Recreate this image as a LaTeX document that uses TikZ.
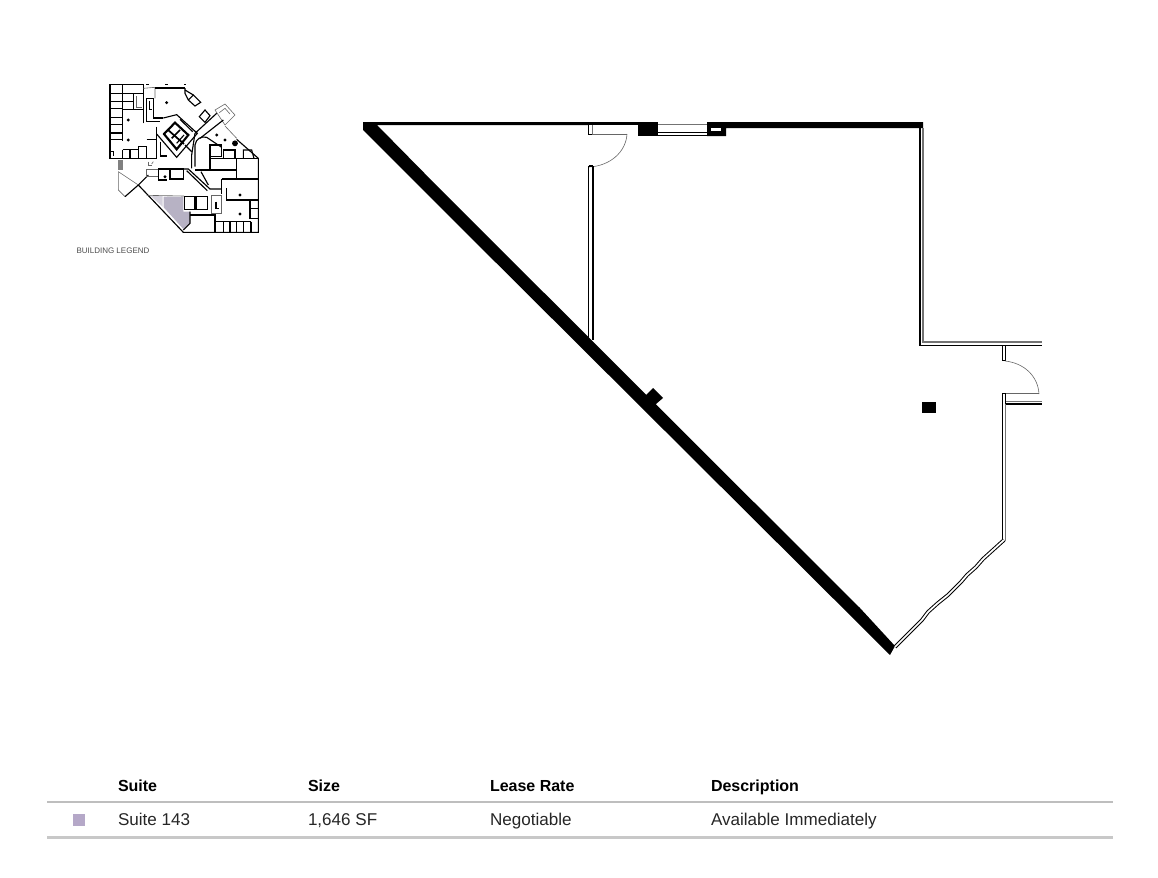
\documentclass[tikz,border=0pt]{standalone}
\usepackage{fontspec}
\setmainfont{Liberation Sans}
\definecolor{suitecolor}{RGB}{181,168,200}
\definecolor{plancolor}{RGB}{183,178,196}
\definecolor{rulecolor}{RGB}{190,190,190}
\tikzset{every picture/.style={line width=0.75pt}}
\tikzset{
  wallblack/.style={draw=black,line width=1pt},
  wallgray/.style={draw=black!55,line width=0.8pt},
  wavywall/.style={draw=black,line width=0.75pt,double=white,double distance=1.3pt,line join=round},
  doorline/.style={draw=black!60,line width=0.45pt},
  planthick/.style={draw=black,line width=0.85pt},
  planthin/.style={draw=black!60,line width=0.45pt},
  headtext/.style={anchor=base west,inner sep=0pt,font=\fontsize{12}{14}\selectfont\bfseries},
  celltext/.style={anchor=base west,inner sep=0pt,font=\fontsize{12.8}{14}\selectfont,text=black!85},
}
\begin{document}
\begin{tikzpicture}[x=0.75pt,y=0.75pt,yscale=-1,xscale=1]
\useasboundingbox (0,0) rectangle (1158,878);

%Shape: outer thick wall
\fill (363,122) -- (588,122) -- (588,125) -- (377,125) -- (440,189) -- (860,608) -- (895,646) -- (890,655) -- (440,207) -- (363,130) -- cycle ;
\fill (640,402) -- (647,394) -- (653,388) -- (663,398) -- (656,404) -- (650,412) -- cycle ;
%Shape: top wall and window blocks
\fill (588,122) -- (638,122) -- (638,125) -- (588,125) -- cycle ;
\fill (638,122) -- (658,122) -- (658,136) -- (638,136) -- cycle ;
\fill (707,122) -- (923,122) -- (923,128) -- (726,128) -- (726,136) -- (707,136) -- cycle ;
\fill [white] (711,128) -- (721,128) -- (721,131) -- (711,131) -- cycle ;
%Straight Lines: window
\draw [wallgray] (658,124.5) -- (707,124.5) ;
\draw [wallblack] (658,132.5) -- (707,132.5) ;
\draw [wallblack] (658,135.5) -- (707,135.5) ;

%Straight Lines: wall at the first door
\draw [wallblack] (588.5,125) -- (588.5,134.5) -- (592.5,134.5) ;
\draw [wallgray] (592.5,125) -- (592.5,134) ;
\draw [doorline] (592,134) -- (627,134) ;
\draw [doorline] (627,134) .. controls (626,152) and (610,166) .. (589,167) ;
\draw [wallblack] (588.5,166) -- (588.5,342) ;
\draw [wallblack] (593,166) -- (593,340) ;
\draw [wallblack] (588.5,166) -- (593,166) ;

%Straight Lines: right wall
\draw [wallblack] (920,128) -- (920,345.5) -- (1042,345.5) ;
\draw [wallgray] (923,128) -- (923,342) -- (1042,342) ;

%Straight Lines: wall at the second door
\draw [wallblack] (1002.5,345.5) -- (1002.5,360.5) -- (1005.5,360.5) -- (1005.5,345.5) ;
\draw [doorline] (1005,361) .. controls (1024,363) and (1038,376) .. (1039,394) ;
\draw [doorline] (1006,393.5) -- (1039,393.5) ;
\draw [wallblack] (1005.5,393.5) -- (1002.5,393.5) -- (1002.5,539) ;
\draw [wallblack] (1005.5,393.5) -- (1005.5,404) -- (1042,404) ;
\draw [wallgray] (1006,401.5) -- (1042,401.5) ;
\draw [wallgray] (1005.5,404) -- (1005.5,541) ;

%Straight Lines: wavy wall
\draw [wavywall] (1004,540) -- (983,559) -- (976,567) -- (967,575) -- (961,582) -- (948,595) -- (938,603) -- (928,612) -- (922,620) -- (910,632) -- (895,647) ;

%Shape: column
\fill (922,402) -- (936,402) -- (936,413) -- (922,413) -- cycle ;

%Building plan
\begin{scope}[shift={(60,70)},x=0.25pt,y=0.25pt]
\fill [plancolor] (311,380) -- (370,380) -- (370,425) -- (390,425) -- (390,460) -- (370,477) -- (311,412) -- cycle ;
\fill [plancolor!60] (272,378) -- (308,378) -- (308,410) -- cycle ;
% upper left block
\draw [planthick] (250,160) -- (250,44) -- (150,44) -- (150,266) -- (290,266) ;
\draw [planthick] (187,44) -- (187,214) ;
\foreach \y in {71,94,116,142,164,189,209}
  \draw [planthick] (150,\y) -- (187,\y) ;
\draw [planthick] (190,71) -- (250,71) ;
\draw [planthick] (190,94) -- (220,94) ;
\draw [planthick] (190,119) -- (250,119) ;
\draw [planthick] (220,71) -- (220,119) ;
\draw [planthin] (228,78) -- (228,112) -- (245,112) ;
\draw [planthick] (188,239) -- (235,239) ;
\draw [planthick] (188,239) -- (188,266) ;
\draw [planthick] (210,239) -- (210,266) ;
\draw [planthick] (235,229) -- (260,229) -- (260,266) ;
\draw [planthick] (235,229) -- (235,266) ;
\draw [planthick] (150,244) -- (160,244) -- (160,258) ;
\draw [planthick] (260,85) -- (260,154) -- (300,154) ;
\draw [planthick] (280,85) -- (280,144) -- (310,144) ;
\draw [planthick] (262,85) -- (280,85) ;
\draw [planthick] (268,92) -- (268,118) -- (276,118) ;
\draw [planthin] (250,55) -- (285,52) -- (285,85) ;
\draw [planthick] (285,54) -- (375,54) ;
\draw [planthick] (260,209) -- (290,209) ;
\draw [planthick] (290,170) -- (290,266) ;
\draw [planthick] (302,215) -- (302,258) -- (320,258) ;
% core
\draw [planthick] (310,144) -- (350,134) -- (412,190) -- (350,262) -- (290,192) ;
\draw [planthick,line width=1.6pt] (312,192) -- (345,158) -- (385,195) -- (350,238) -- cycle ;
\draw [planthick,line width=1.3pt] (322,178) -- (372,222) ;
\draw [planthick,line width=1.3pt] (335,205) -- (360,180) ;
\draw [planthick] (350,220) -- (372,195) ;
\draw [planthick] (360,148) -- (398,185) ;
\draw [planthick] (375,225) -- (395,245) ;
% upper right
\draw [planthick] (375,54) -- (375,70) -- (385,90) -- (405,108) -- (422,97) -- (400,75) -- (385,90) ;
\draw [planthick] (400,75) -- (375,60) ;
\draw [planthick] (418,140) -- (435,120) -- (450,137) -- (435,157) -- cycle ;
\draw [planthin] (465,120) -- (495,102) -- (525,135) -- (495,165) -- cycle ;
\draw [planthin] (478,128) -- (495,115) -- (510,132) ;
\draw [planthick] (470,130) -- (405,190) -- (395,255) -- (395,295) ;
\draw [planthick] (490,150) -- (420,205) ;
\draw [planthin] (495,168) -- (530,205) ;
\fill (525,220) circle [radius=2.2pt] ;
\draw [planthick] (530,208) -- (595,265) -- (595,487) -- (370,487) -- (235,345) -- (195,380) ;
\draw [planthick] (235,345) -- (265,315) ;
% arch room
\draw [planthick] (405,290) -- (405,225) .. controls (408,205) and (425,198) .. (440,202) -- (485,232) ;
\draw [planthick] (405,300) -- (450,300) ;
\draw [planthick] (450,225) -- (485,225) -- (485,260) -- (450,260) -- cycle ;
\draw [planthick] (490,240) -- (525,240) -- (525,265) ;
\draw [planthick] (490,240) -- (490,265) ;
\draw [planthick] (550,265) -- (550,240) -- (575,240) -- (582,265) ;
\draw [planthick] (450,266) -- (595,266) ;
\draw [planthick] (450,255) -- (450,300) -- (530,300) ;
\draw [planthick] (530,266) -- (530,325) ;
% middle
\draw [planthin] (260,297) -- (295,297) -- (295,320) -- (260,320) -- cycle ;
\draw [planthick] (295,297) -- (330,297) ;
\draw [planthick] (295,300) -- (295,330) -- (320,330) ;
\draw [planthick,line width=1.2pt] (330,297) -- (370,297) -- (370,327) -- (330,327) -- cycle ;
\draw [planthick] (370,297) -- (385,297) -- (450,357) -- (485,357) ;
\draw [planthick] (380,302) -- (442,362) ;
\draw [planthick] (423,305) -- (445,345) ;
\draw [planthin] (260,376) -- (372,378) ;
\draw [planthin] (265,275) -- (265,285) -- (275,285) ;
\draw [planthin] (280,275) -- (275,282) ;
% lower right
\draw [planthick] (485,327) -- (595,327) ;
\draw [planthick] (485,327) -- (485,372) ;
\draw [planthick] (500,355) -- (500,390) -- (595,390) ;
\draw [planthick] (373,380) -- (405,380) -- (405,418) -- (373,418) -- cycle ;
\draw [planthick] (410,380) -- (443,380) -- (443,418) -- (410,418) -- cycle ;
\draw [planthin] (455,375) -- (485,375) -- (485,430) -- (455,430) -- cycle ;
\draw [planthick,line width=1.2pt] (468,395) -- (468,415) -- (476,415) ;
\draw [planthick] (390,425) -- (390,460) -- (370,480) ;
\draw [planthick] (390,435) -- (465,435) -- (465,487) ;
\draw [planthick] (465,455) -- (573,455) ;
\foreach \x in {490,510,530,550,573}
  \draw [planthick] (\x,455) -- (\x,487) ;
\draw [planthick] (570,390) -- (570,445) -- (595,445) ;
\draw [planthick] (570,415) -- (595,415) ;
% lower left wing
\draw [planthin] (175,305) -- (175,360) -- (195,380) ;
\draw [planthin] (175,305) -- (235,345) ;
\fill [black!50] (175,270) -- (190,270) -- (190,300) -- (175,300) -- cycle ;
% columns
\foreach \x/\y in {205/150,205/210,320/98,315/320,540/375,540/432,495/210,470/195}
  \fill (\x,\y) circle [radius=1.2pt] ;
\foreach \x in {262,320,375}
  \fill (\x-4,42) -- (\x+4,42) -- (\x+4,45) -- (\x-4,45) -- cycle ;
\end{scope}

% Text Node
\draw (76,253) node [anchor=base west][inner sep=0pt,font=\fontsize{6}{7}\selectfont,text=black!70] (legendtext) {BUILDING LEGEND};

% Text Node
\draw (117.5,791) node [headtext] (suitehead) {Suite};
% Text Node
\draw (307.5,791) node [headtext] (sizehead) {Size};
% Text Node
\draw (489.5,791) node [headtext] (ratehead) {Lease Rate};
% Text Node
\draw (710.5,791) node [headtext] (deschead) {Description};

%Straight Lines
\draw [rulecolor,line width=1.4pt] (47,802) -- (1113,802) ;
\draw [rulecolor!85,line width=2.2pt] (47,837.5) -- (1113,837.5) ;

%Shape: Square
\fill [suitecolor] (73,814) -- (85,814) -- (85,826) -- (73,826) -- cycle ;
% Text Node
\draw (117.5,825) node [celltext] (suitecell) {Suite 143};
% Text Node
\draw (307.5,825) node [celltext] (sizecell) {1,646 SF};
% Text Node
\draw (489.5,825) node [celltext] (ratecell) {Negotiable};
% Text Node
\draw (710.5,825) node [celltext] (desccell) {Available Immediately};
\end{tikzpicture}
\end{document}
